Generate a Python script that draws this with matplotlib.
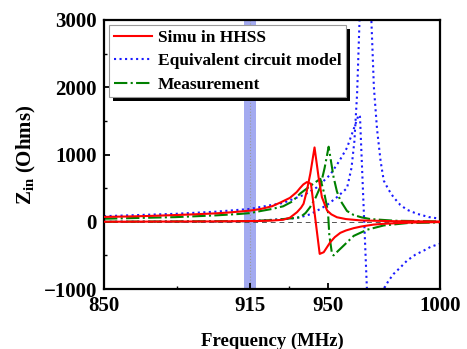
import matplotlib
matplotlib.use('Agg')
import matplotlib.pyplot as plt
from matplotlib.patches import Rectangle
from matplotlib.ticker import FixedLocator

plt.rcParams['font.family'] = ['Liberation Serif', 'DejaVu Serif']
plt.rcParams['font.weight'] = 'bold'
plt.rcParams['mathtext.fontset'] = 'custom'
plt.rcParams['mathtext.rm'] = 'Liberation Serif:bold'
plt.rcParams['mathtext.bf'] = 'Liberation Serif:bold'
plt.rcParams['mathtext.it'] = 'Liberation Serif:bold'

# Simu in HHSS (real / imag)
simu_re_f = [850, 900, 915, 920, 925, 930, 933, 936.2, 938, 939.1, 940.5, 942.1, 944.0,
             945.8, 947.3, 949.6, 951.5, 954.0, 958, 964.5, 980, 1000]
simu_re_z = [0, 5, 10, 12, 18, 30, 60, 143, 210, 268, 450, 713, 1105,
             663, 365, 168, 110, 67, 40, 20, 8, 3]
simu_im_f = [850, 860, 870, 882, 890, 900, 905, 910, 915, 920, 925, 929, 933, 936, 937.5, 939,
             940.6, 942.4, 946.3, 948.1, 951.0, 953, 955.5, 958, 961.5, 965, 970.4, 975, 985, 990, 1000]
simu_im_z = [72, 78, 86, 100, 110, 125, 136, 150, 165, 190, 230, 290, 355, 440, 500, 555,
             590, 565, -478, -453, -305, -230, -165, -130, -95, -70, -42, -30, -15, -10, -5]

# Equivalent circuit model (real / imag)
ecm_re_f = [850, 900, 915, 933, 937.6, 942, 946.6, 950, 954, 958.5, 960.5, 961.8, 963.0, 964.1, 966.5,
            969.4, 970.5, 971.9, 973.5, 974.9, 977, 979.3, 982.3, 985.3, 989.8, 995, 1000]
ecm_re_z = [0, 5, 10, 45, 67, 110, 191, 260, 365, 500, 800, 1200, 1900, 3000, 5000,
            2975, 2000, 1380, 900, 612, 480, 363, 250, 178, 118, 70, 45]
ecm_im_f = [850, 870, 882, 900, 915, 930, 940, 945.1, 951, 955, 958.5, 961.5, 963.7, 964.3,
            967.4, 968.0, 973.0, 974.9, 977, 979.3, 982.3, 985.3, 989, 992.8, 996, 1000]
ecm_im_z = [83, 105, 118, 150, 190, 280, 410, 513, 700, 900, 1100, 1380, 1590, 1560,
            -1010, -1500, -1400, -1000, -880, -776, -680, -578, -490, -428, -370, -328]

# Measurement (real / imag)
meas_re_f = [850, 915, 925, 930, 934, 937.6, 940, 942, 944.5, 946.5, 948.5, 950.3,
             952.5, 954, 955.5, 958.5, 961.5, 965, 968.9, 980, 1000]
meas_re_z = [0, 10, 25, 40, 52, 67, 130, 216, 360, 513, 800, 1116,
             663, 450, 318, 160, 100, 65, 40, 15, 5]
meas_im_f = [850, 882, 900, 910, 915, 920, 925, 930, 934, 937.6, 942, 944.5, 946.6, 948.5,
             950.0, 950.6, 951.8, 952.5, 954, 956.3, 961.5, 967.4, 974.9, 985.3, 1000]
meas_im_z = [45, 69, 95, 115, 128, 160, 190, 230, 300, 420, 530, 590, 638, 400,
             150, -200, -478, -500, -450, -377, -210, -119, -55, -20, -10]

x_ticks = [850, 915, 950, 1000]
x_minor = [882.5, 932.5, 975]
band = (912.6, 917.8)

fig = plt.figure(figsize=(4.67, 3.49), dpi=100)
ax = fig.add_axes([0.2227, 0.1719, 0.7194, 0.7708])

ax.axvspan(band[0], band[1], color='#a3aaf0', lw=0, zorder=0)
ax.axvline(915, color='#9a9a9a', lw=0.8, ls=':', zorder=1)
ax.axhline(0, color='#555555', lw=0.7, ls=(0, (5, 4)), zorder=1)

red, blue, green = '#ff0000', '#1a1aff', '#008000'
ax.plot(simu_re_f, simu_re_z, color=red, lw=1.5, zorder=3, label='Simu in HHSS')
ax.plot(simu_im_f, simu_im_z, color=red, lw=1.5, zorder=3)
ax.plot(ecm_re_f, ecm_re_z, color=blue, lw=1.5, ls=':', zorder=2, label='Equivalent circuit model')
ax.plot(ecm_im_f, ecm_im_z, color=blue, lw=1.5, ls=':', zorder=2)
ax.plot(meas_re_f, meas_re_z, color=green, lw=1.5, ls='-.', zorder=2, label='Measurement')
ax.plot(meas_im_f, meas_im_z, color=green, lw=1.5, ls='-.', zorder=2)

ax.set_xlim(850, 1000)
ax.set_ylim(-1000, 3000)
ax.set_xticks(x_ticks)
ax.xaxis.set_minor_locator(FixedLocator(x_minor))
ax.set_yticks([-1000, 0, 1000, 2000, 3000])
ax.yaxis.set_minor_locator(FixedLocator([-500, 500, 1500, 2500]))
ax.tick_params(which='both', direction='in', top=False, right=False, labelsize=15, pad=5)
ax.tick_params(which='major', length=4, width=1.3)
ax.tick_params(which='minor', length=2.5, width=1.0)
for s in ax.spines.values():
    s.set_linewidth(1.6)

ax.set_xlabel('Frequency (MHz)', fontsize=13.5, fontweight='bold', labelpad=12)
ax.set_ylabel(r'$\mathbf{Z_{in}}$ (Ohms)', fontsize=15, fontweight='bold', labelpad=4)

# legend without its own frame; box and black shadow are drawn by hand below
leg = ax.legend(loc='upper left', fontsize=12.5, frameon=False,
                handlelength=2.2, handletextpad=0.35,
                borderpad=0.25, labelspacing=0.42, borderaxespad=0.3)
leg.set_zorder(10)

fig.canvas.draw()
bb = leg.get_window_extent(fig.canvas.get_renderer())
x0, y0 = ax.transAxes.inverted().transform((bb.x0, bb.y0))
x1, y1 = ax.transAxes.inverted().transform((bb.x1, bb.y1))
dx = 4 / ax.bbox.width
dy = 4 / ax.bbox.height
ax.add_patch(Rectangle((x0 + dx, y0 - dy), x1 - x0, y1 - y0, transform=ax.transAxes,
                       facecolor='black', edgecolor='none', zorder=8, clip_on=False))
ax.add_patch(Rectangle((x0, y0), x1 - x0, y1 - y0, transform=ax.transAxes,
                       facecolor='white', edgecolor='#999999', lw=0.8, zorder=9, clip_on=False))

fig.savefig('out.png', dpi=100)
